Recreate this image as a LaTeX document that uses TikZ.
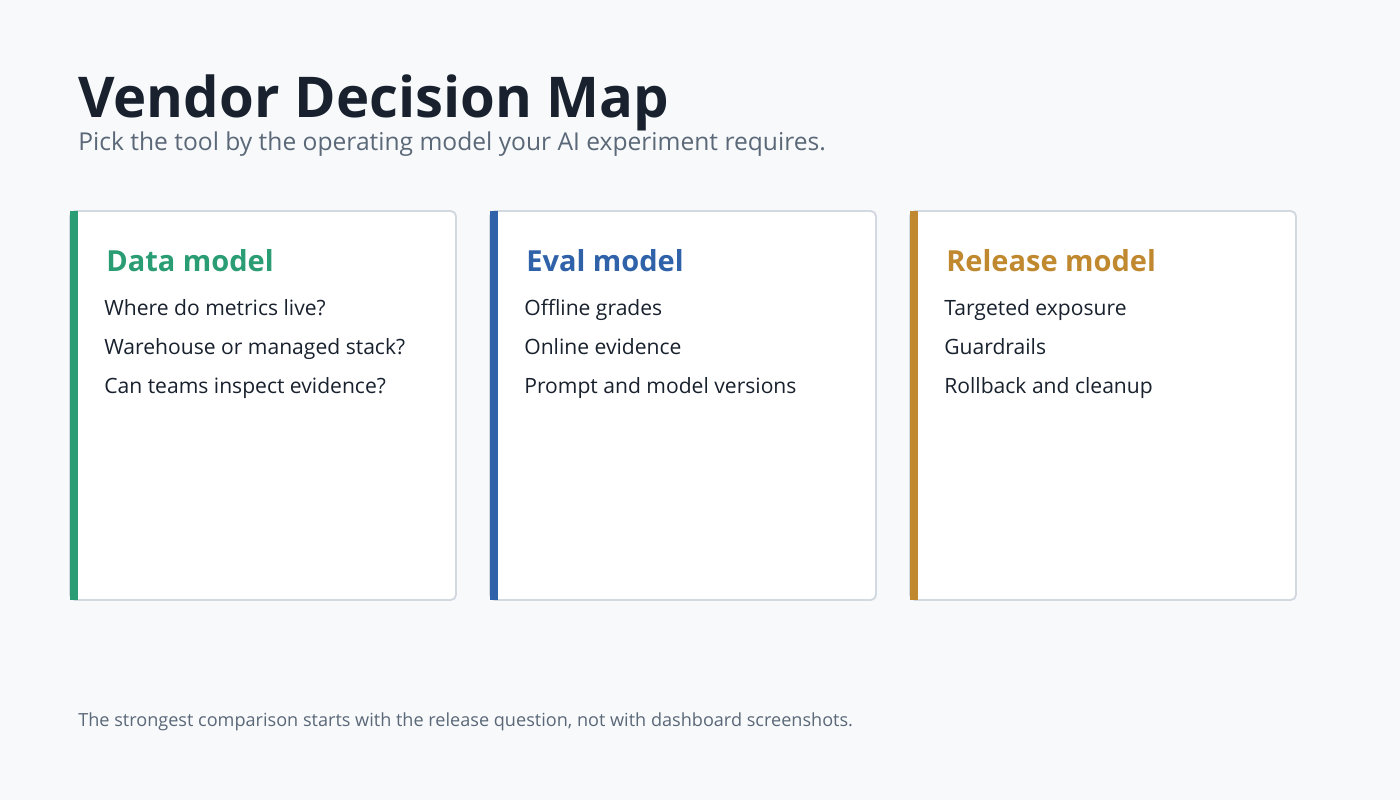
\documentclass[tikz,border=0pt]{standalone}
\usepackage{fontspec}
\setmainfont{Open Sans}
\definecolor{bg}{HTML}{F8F9FB}
\definecolor{ink}{HTML}{18212D}
\definecolor{sub}{HTML}{5A6878}
\definecolor{cgreen}{HTML}{2A9D74}
\definecolor{cblue}{HTML}{2F62A8}
\definecolor{corange}{HTML}{C0892F}
\definecolor{bord}{HTML}{D3D9E0}
\begin{document}
\begin{tikzpicture}[x=0.02cm,y=-0.02cm,
  txt/.style={anchor=base west,inner sep=0pt},
  item/.style={txt,font=\fontsize{12}{14}\selectfont,text=ink},
  head/.style={txt,font=\bfseries\fontsize{16.5}{19}\selectfont},
  card/.style={draw=bord,line width=1.1pt,fill=white,rounded corners=3pt}]
\fill[bg] (0,0) rectangle (1400,800);
\useasboundingbox (0,0) rectangle (1400,800);
\node[txt,font=\bfseries\fontsize{32}{38}\selectfont,text=ink] (title) at (78,118) {Vendor Decision Map};
\node[txt,font=\fontsize{14}{17}\selectfont,text=sub] (subtitle) at (78,151) {Pick the tool by the operating model your AI experiment requires.};
\foreach \x/\c/\h/\a/\b/\d [count=\i] in {70/cgreen/Data model/Where do metrics live?/Warehouse or managed stack?/Can teams inspect evidence?,
  490/cblue/Eval model/Offline grades/Online evidence/Prompt and model versions,
  910/corange/Release model/Targeted exposure/Guardrails/Rollback and cleanup}{
  \draw[card] (\x,211) rectangle ++(386,389);
  \fill[\c] (\x,211) rectangle ++(8,389);
  \node[head,text=\c] (h\i) at (\x+36,272) {\h};
  \node[item] (a\i) at (\x+34,316) {\a};
  \node[item] (b\i) at (\x+34,355) {\b};
  \node[item] (d\i) at (\x+34,394) {\d};
}
\node[txt,font=\fontsize{10.3}{12}\selectfont,text=sub] (footer) at (78,726) {The strongest comparison starts with the release question, not with dashboard screenshots.};
\end{tikzpicture}
\end{document}
